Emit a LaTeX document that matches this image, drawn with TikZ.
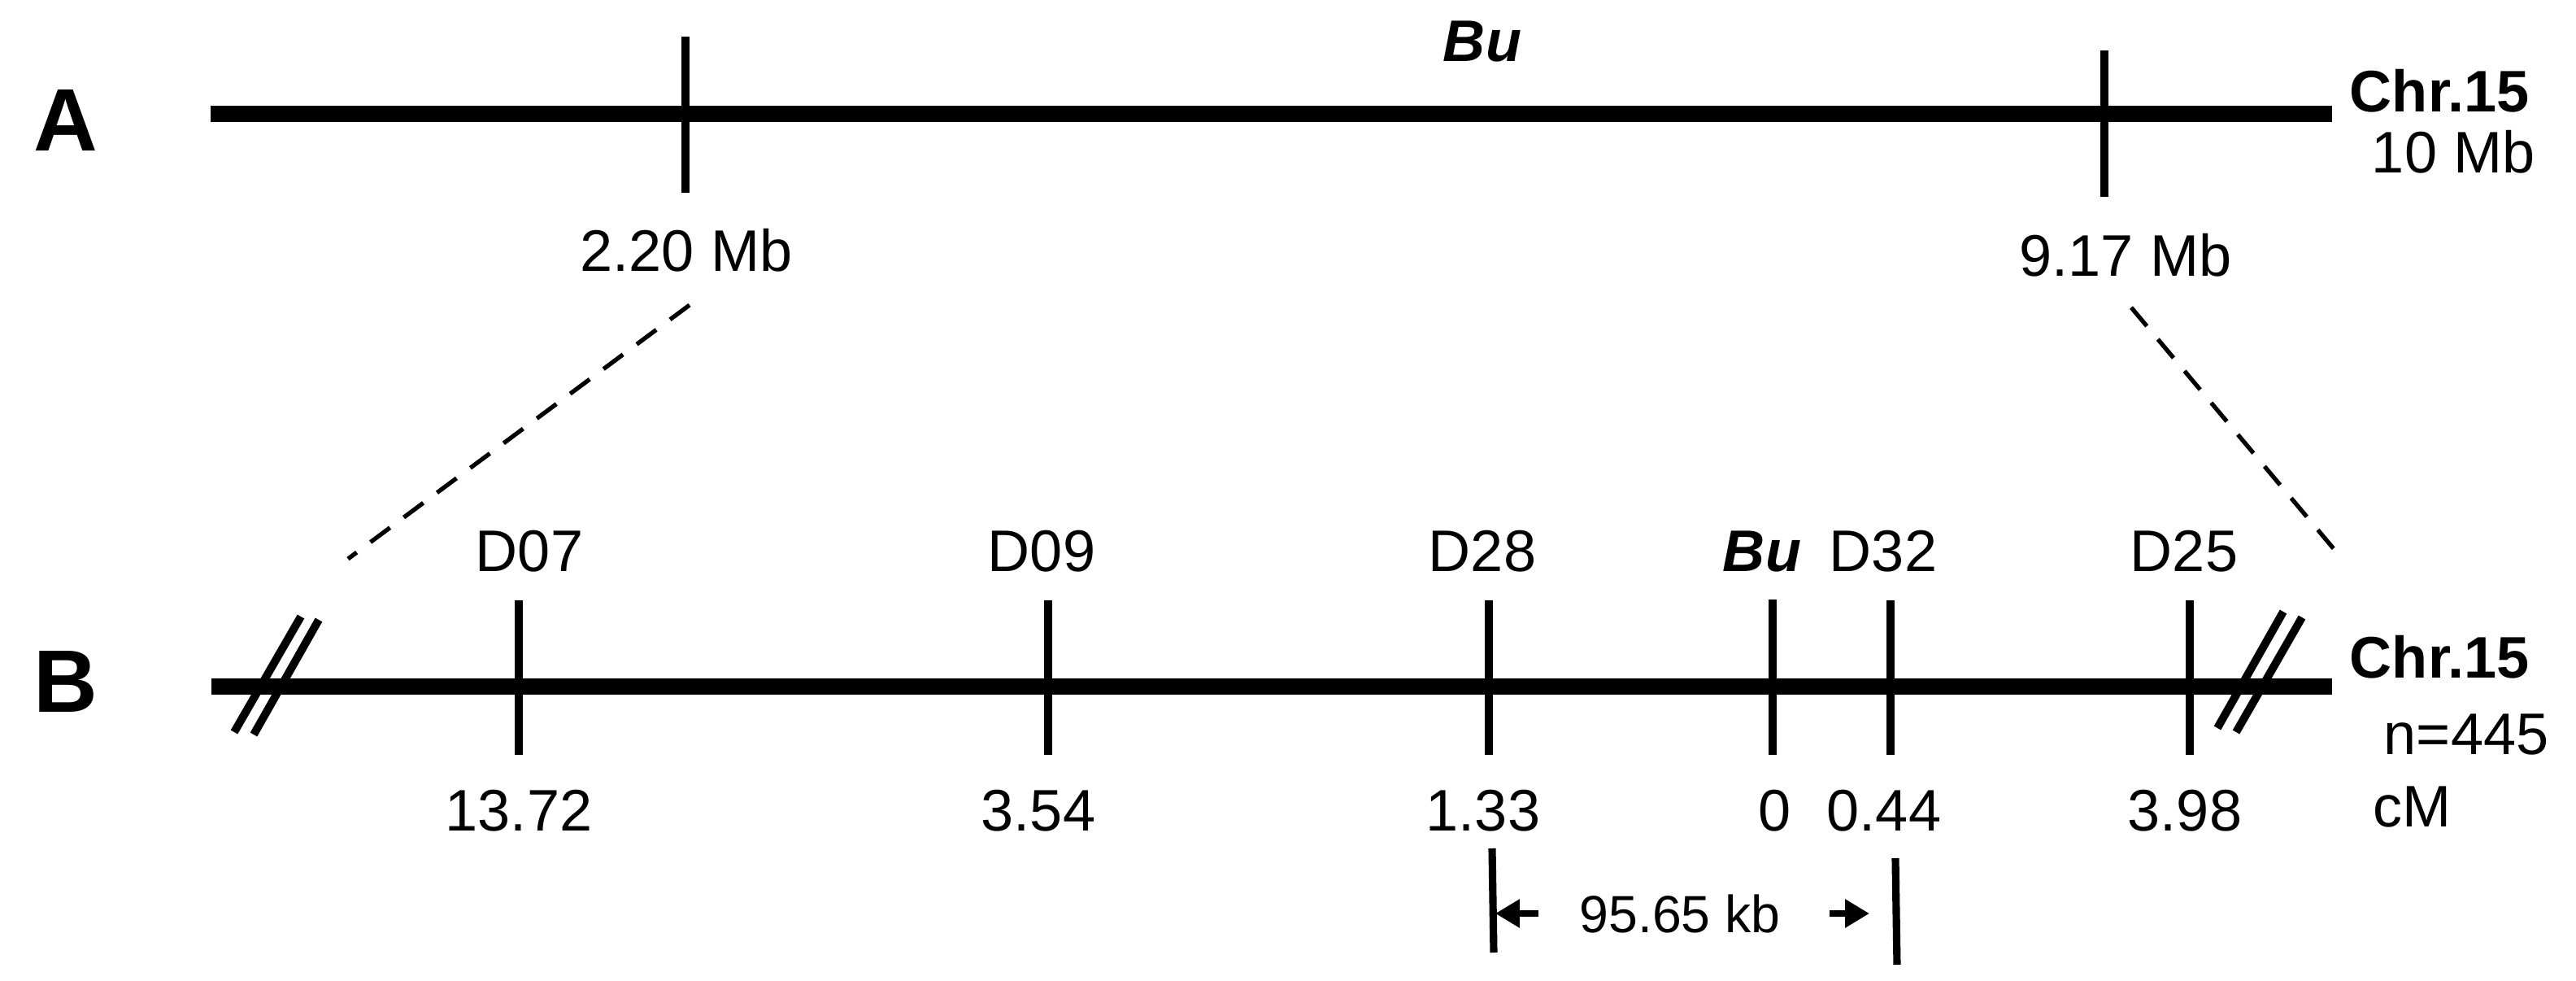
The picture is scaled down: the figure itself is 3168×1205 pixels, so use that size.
\documentclass[tikz,border=0pt]{standalone}
\usepackage{fontspec}
\setmainfont{Liberation Sans}
\usetikzlibrary{arrows.meta}
\tikzset{
  chrline/.style={line width=5.9pt},
  tickline/.style={line width=2.6pt},
  brkline/.style={line width=2.8pt},
  dashline/.style={line width=1.5pt, dash pattern=on 8.5pt off 6pt},
  lbl/.style={font=\fontsize{20.5}{24}\selectfont, inner sep=0pt, anchor=base, text height=15pt, text depth=4pt},
  blbl/.style={font=\fontsize{20.5}{24}\selectfont\bfseries, inner sep=0pt, anchor=base east, text height=15pt, text depth=4pt},
  bilbl/.style={font=\fontsize{20.5}{24}\selectfont\bfseries\itshape, inner sep=0pt, anchor=base, text height=15pt, text depth=4pt},
  panel/.style={font=\fontsize{31}{36}\selectfont\bfseries, inner sep=0pt, anchor=base},
  small/.style={font=\fontsize{18.3}{22}\selectfont, inner sep=0pt, anchor=base},
  dimarrow/.style={line width=2.1pt, -{Triangle[length=8.5pt,width=9.5pt]}}
}
\begin{document}
\begin{tikzpicture}[x=0.01cm,y=-0.01cm]
\useasboundingbox (0,0) rectangle (3168,1205);
% ---------- Panel A ----------
\node[panel] (pA) at (81,185) {A};
\coordinate (a1) at (259,140);
\coordinate (a2) at (2868,140);
\draw[chrline] (a1) -- (a2);
\coordinate (t1t) at (843,45);  \coordinate (t1b) at (843,237);
\coordinate (t2t) at (2588,62); \coordinate (t2b) at (2588,242);
\draw[tickline] (t1t) -- (t1b);
\draw[tickline] (t2t) -- (t2b);
\node[bilbl] (buA) at (1823,75) {Bu};
\node[blbl] (chrA) at (3111,137) {Chr.15};
\node[lbl, anchor=base east] (mbA) at (3118,212) {10 Mb};
\node[lbl] (m1) at (844,333) {2.20 Mb};
\node[lbl] (m2) at (2614,339) {9.17 Mb};
% dashed zoom lines
\coordinate (d1s) at (848,375); \coordinate (d1e) at (428,687);
\coordinate (d2s) at (2621,378); \coordinate (d2e) at (2877,683);
\draw[dashline] (d1s) -- (d1e);
\draw[dashline] (d2s) -- (d2e);
% ---------- Panel B ----------
\node[panel] (pB) at (81,875) {B};
\coordinate (b1) at (260,844);
\coordinate (b2) at (2868,844);
\draw[chrline] (b1) -- (b2);
% break marks
\coordinate (k1a) at (288,900); \coordinate (k1b) at (370,758);
\coordinate (k2a) at (312,903); \coordinate (k2b) at (392,762);
\coordinate (k3a) at (2727,895); \coordinate (k3b) at (2808,752);
\coordinate (k4a) at (2750,900); \coordinate (k4b) at (2831,759);
\draw[brkline] (k1a) -- (k1b);
\draw[brkline] (k2a) -- (k2b);
\draw[brkline] (k3a) -- (k3b);
\draw[brkline] (k4a) -- (k4b);
% markers
\foreach \nm/\x/\lx/\vx/\val in {D07/638/651/638/13.72, D09/1289/1281/1277/3.54, D28/1831/1823/1824/1.33, D32/2325/2316/2317/0.44, D25/2693/2686/2687/3.98}{
  \coordinate (\nm t) at (\x,738);
  \coordinate (\nm b) at (\x,928);
  \draw[tickline] (\nm t) -- (\nm b);
  \node[lbl] (\nm lab) at (\lx,702) {\nm};
  \node[lbl] (\nm val) at (\vx,1021) {\val};
}
\coordinate (But) at (2180,737);
\coordinate (Bub) at (2180,928);
\draw[tickline] (But) -- (Bub);
\node[bilbl] (Bulab) at (2167,702) {Bu};
\node[lbl] (Buval) at (2183,1021) {0};
\node[blbl] (chrB) at (3111,833) {Chr.15};
\node[lbl, anchor=base east] (nB) at (3135,927) {n=445};
\node[lbl, anchor=base west] (cmB) at (2918,1016) {cM};
% physical distance
\coordinate (p1t) at (1835,1043); \coordinate (p1b) at (1837,1171);
\coordinate (p2t) at (2331,1055); \coordinate (p2b) at (2333,1186);
\draw[tickline] (p1t) -- (p1b);
\draw[tickline] (p2t) -- (p2b);
\node[small] (kb) at (2066,1146) {95.65 kb};
\coordinate (ar1s) at (1892,1123); \coordinate (ar1e) at (1839,1123);
\coordinate (ar2s) at (2250,1123); \coordinate (ar2e) at (2299,1123);
\draw[dimarrow] (ar1s) -- (ar1e);
\draw[dimarrow] (ar2s) -- (ar2e);
\end{tikzpicture}
\end{document}
